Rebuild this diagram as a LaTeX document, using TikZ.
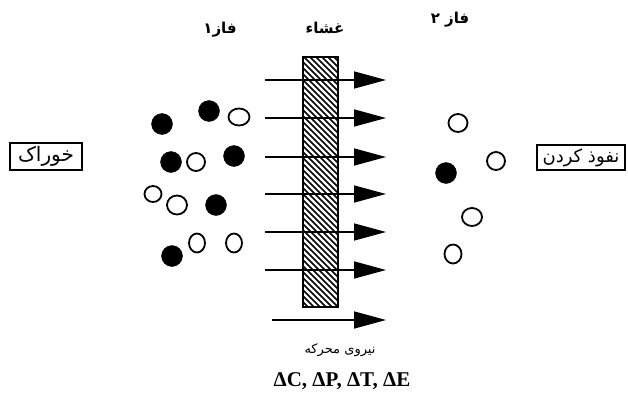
\documentclass[tikz,border=0pt]{standalone}
\usepackage{fontspec}
\usetikzlibrary{arrows.meta,shapes.geometric}
\TeXXeTstate=1
\newfontfamily\arabicfont[Script=Arabic]{DejaVu Sans}
\newfontfamily\arabicbold[Script=Arabic]{DejaVu Sans Bold}
\newfontfamily\deltafont{Liberation Serif}
\begin{document}
\begin{tikzpicture}[x=1pt,y=-1pt,
  fdot/.style={circle,fill=black,draw=black,minimum size=21pt,inner sep=0pt},
  odot/.style={ellipse,draw=black,line width=1.8pt,fill=white,minimum width=19pt,minimum height=16pt,inner sep=0pt},
  odotv/.style={ellipse,draw=black,line width=1.8pt,fill=white,minimum width=16pt,minimum height=19pt,inner sep=0pt},
  flux/.style={line width=1.6pt,-{Triangle[length=32pt,width=17pt]}},
  lbox/.style={draw=black,line width=2pt,inner sep=0pt,minimum height=27pt},
  head/.style={font=\arabicbold\fontsize{15}{18}\selectfont}]
\useasboundingbox (0,0) rectangle (628,401);
% headers
\node[head] (h1) at (220,30) {\beginR فاز۱\endR};
\node[head] (hm) at (325,28) {\beginR غشاء\endR};
\node[head] (h2) at (450,20) {\beginR فاز ۲\endR};
% side boxes
\node[lbox,minimum width=72pt,font=\arabicfont\fontsize{20}{22}\selectfont] (feed) at (46,156.5) {\beginR خوراک\endR};
\node[lbox,minimum width=88pt,minimum height=25pt,font=\arabicfont\fontsize{18}{20}\selectfont] (perm) at (581,157.5) {\beginR نفوذ کردن\endR};
% membrane
\begin{scope}
\clip (303,57) rectangle (338,307);
\foreach \k in {0,...,50} {
  \draw[line width=1.7pt] (46+\k*6,57) -- ++(250,250);
}
\end{scope}
\node[draw=black,line width=1.5pt,minimum width=35pt,minimum height=250pt,inner sep=0pt] (mem) at (320.5,182) {};
% flux arrows
\foreach \yy [count=\i] in {80,118,157,194,232,270} {
  \coordinate (s\i) at (265,\yy);
  \coordinate (e\i) at (386,\yy);
  \draw[flux] (s\i) -- (e\i);
}
% left phase molecules
\node[fdot] (a1) at (162,124) {};
\node[fdot] (a2) at (209,111) {};
\node[odot,minimum width=21pt,minimum height=17pt] (a3) at (239,117) {};
\node[fdot] (a4) at (171,162) {};
\node[odot,minimum width=18pt,minimum height=18pt] (a5) at (196,162) {};
\node[fdot] (a6) at (234,156) {};
\node[odot,minimum width=17pt,minimum height=16pt] (a7) at (153,194) {};
\node[odot,minimum width=20pt,minimum height=19pt] (a8) at (177,205) {};
\node[fdot] (a9) at (216,205) {};
\node[odotv] (a10) at (197,243) {};
\node[odotv] (a11) at (234,243) {};
\node[fdot] (a12) at (172,256) {};
% right phase molecules
\node[odot,minimum width=19pt,minimum height=18pt] (b1) at (458,123) {};
\node[odotv,minimum width=18pt,minimum height=18pt] (b2) at (496,161) {};
\node[fdot] (b3) at (446,173) {};
\node[odot,minimum width=20pt,minimum height=18pt] (b4) at (472,217) {};
\node[odotv,minimum width=17pt,minimum height=19pt] (b5) at (453,254) {};
% driving force
\coordinate (df1) at (272,320);
\coordinate (df2) at (386,320);
\draw[flux] (df1) -- (df2);
\node[font=\arabicfont\fontsize{13}{15}\selectfont] (dflab) at (340,350) {\beginR نیروی محرکه\endR};
\node[font=\deltafont\bfseries\fontsize{21}{24}\selectfont] (dvars) at (342,381) {ΔC, ΔP, ΔT, ΔE};
\end{tikzpicture}
\end{document}
